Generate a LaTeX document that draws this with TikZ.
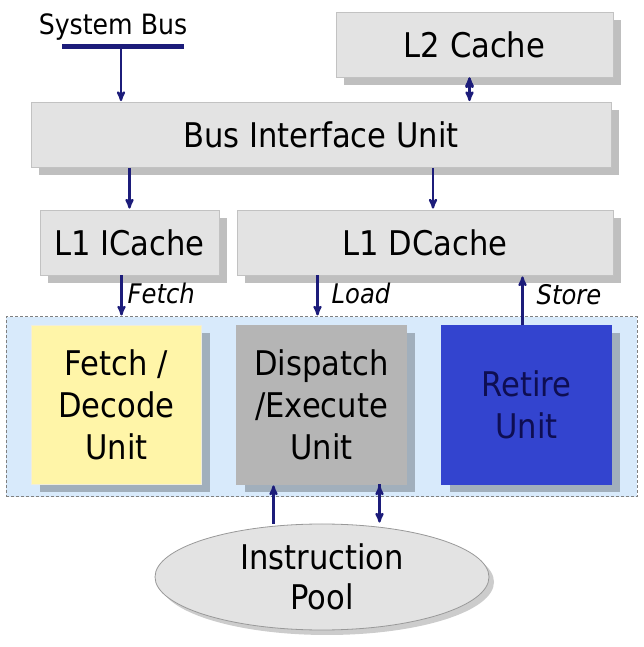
\documentclass[tikz,border=0pt]{standalone}
\usepackage{fontspec}
\setmainfont{DejaVu Sans}[FakeStretch=0.9]
\usetikzlibrary{arrows,shapes.geometric,shadows}

\definecolor{busblue}{HTML}{1C1C7A}
\definecolor{boxgray}{HTML}{E3E3E3}
\definecolor{boxline}{HTML}{C2C2C2}
\definecolor{coreblue}{HTML}{D8EAFB}
\definecolor{fdyellow}{HTML}{FFF5A8}
\definecolor{degray}{HTML}{B5B5B5}
\definecolor{rublue}{HTML}{3344CF}
\definecolor{runavy}{HTML}{0E0E52}

\tikzset{
  box/.style={rectangle,draw=boxline,fill=boxgray,line width=0.8pt,
    minimum height=65pt,inner sep=0pt,
    font=\fontsize{34}{42}\selectfont,
    drop shadow={shadow xshift=8pt,shadow yshift=-8pt,fill=black,opacity=.25}},
  unit/.style={box,minimum width=170pt,minimum height=159pt,align=center},
  tag/.style={font=\fontsize{27}{30}\selectfont\itshape,inner sep=0pt},
  link/.style={draw=busblue,line width=2.2pt}
}

\begin{document}
\begin{tikzpicture}[x=1pt,y=1pt,>=stealth',shorten >=1pt,node distance=205pt]
\useasboundingbox (0,0) rectangle (644,647);

% system bus
\node[font=\fontsize{28}{30}\selectfont,inner sep=0pt] (sysbus) at (113,620) {System Bus};
\coordinate (sbl) at (62,600);
\coordinate (sbr) at (185,600);
\coordinate (sbtap) at (121,600);
\draw[busblue,line width=5pt] (sbl) -- (sbr);

% caches and bus unit
\node[box,minimum width=277pt]   (l2)  at (474.5,602.5)   {L2 Cache};
\node[box,minimum width=580pt]   (biu) at (321,512)       {Bus Interface Unit};
\node[box,minimum width=179pt]   (l1i) at (129.5,404.5)   {L1 ICache};
\node[box,minimum width=376pt]   (l1d) at (425,404.5)     {L1 DCache};

% core
\node[rectangle,fill=coreblue,draw=gray,line width=1pt,dash pattern=on 3pt off 2pt,
      minimum width=631pt,minimum height=180pt] (core) at (321.5,240) {};
\node[unit,fill=fdyellow,draw=fdyellow!80!black!30]   (fd)  at (116.5,242.5)   {Fetch /\\Decode\\Unit};
\node[unit,fill=degray,draw=degray]   (de)[right of=fd]   {Dispatch\\/Execute\\Unit};
\node[unit,fill=rublue,draw=rublue,text=runavy]   (ru)[right of=de]   {Retire\\Unit};

\node[ellipse,draw=gray!80,fill=boxgray,line width=0.8pt,
      minimum width=334pt,minimum height=106pt,align=center,inner sep=0pt,
      font=\fontsize{34}{40}\selectfont,
      drop shadow={shadow xshift=5pt,shadow yshift=-5pt,fill=black,opacity=.2}]
      (pool) at (322,70) {Instruction\\Pool};

	\path[link,->] (sbtap) edge (sbtap |- biu.north)
	               (biu.south -| l1i.north) edge (l1i.north)
	               ([xshift=8pt]l1d.north |- biu.south) edge ([xshift=8pt]l1d.north)
	               ([xshift=-8pt]l1i.south) edge node[tag,right=5pt,pos=.45] {Fetch} ([xshift=-8pt]l1i.south |- core.north)
	               ([xshift=-4pt]de.north |- l1d.south) edge node[tag,right=13pt,pos=.45] {Load} ([xshift=-4pt]de.north |- core.north)
	               ([xshift=-4pt]ru.north) edge node[tag,right=13pt,pos=.6] {Store} ([xshift=-4pt]ru.north |- l1d.south)
	               ([xshift=-48pt]de.south |- pool.north) edge ([xshift=-48pt]de.south)
	               ([xshift=58pt]de.south) edge ([xshift=58pt]de.south |- pool.north);
	\path[link,<->] ([xshift=-5pt]l2.south) edge ([xshift=-5pt]l2.south |- biu.north);

\end{tikzpicture}
\end{document}
